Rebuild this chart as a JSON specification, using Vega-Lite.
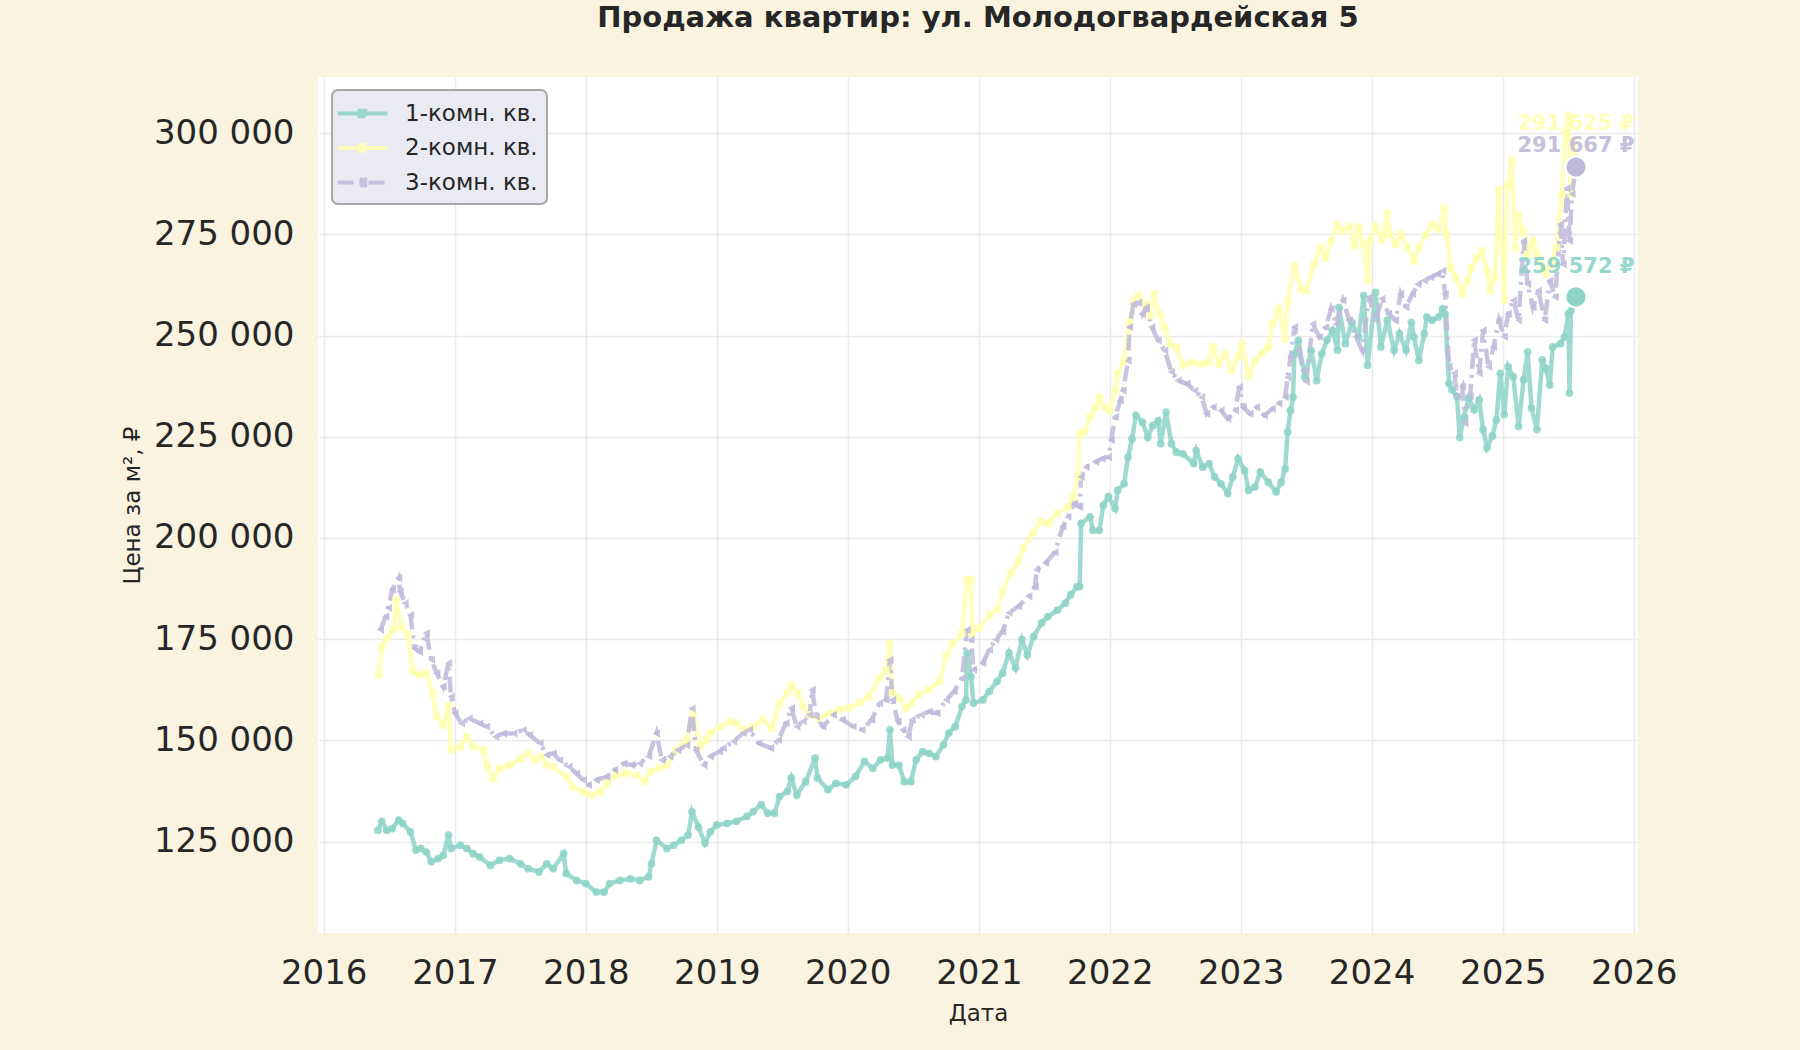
{
  "$schema": "https://vega.github.io/schema/vega-lite/v6.json",
  "width": 1320,
  "height": 856,
  "autosize": {"type": "none"},
  "padding": {"left": 318, "top": 77, "right": 162, "bottom": 117},
  "background": "#FAF3E0",
  "title": {
    "text": "Продажа квартир: ул. Молодогвардейская 5",
    "fontSize": 29,
    "fontWeight": "bold",
    "color": "#262626",
    "anchor": "middle",
    "offset": 44
  },
  "config": {
    "font": "DejaVu Sans",
    "view": {"fill": "white", "stroke": null},
    "legend": {"strokeWidth": 2},
    "locale": {"number": {"decimal": ",", "thousands": " ", "grouping": [3], "currency": ["", " ₽"]}}
  },
  "datasets": {
    "prices": [
      {"s": "1-комн. кв.", "d": "2016-05-31", "v": 127800},
      {"s": "1-комн. кв.", "d": "2016-06-11", "v": 129900},
      {"s": "1-комн. кв.", "d": "2016-06-25", "v": 127800},
      {"s": "1-комн. кв.", "d": "2016-07-10", "v": 128200},
      {"s": "1-комн. кв.", "d": "2016-07-28", "v": 130300},
      {"s": "1-комн. кв.", "d": "2016-08-08", "v": 129500},
      {"s": "1-комн. кв.", "d": "2016-08-30", "v": 127400},
      {"s": "1-комн. кв.", "d": "2016-09-14", "v": 122900},
      {"s": "1-комн. кв.", "d": "2016-09-28", "v": 123300},
      {"s": "1-комн. кв.", "d": "2016-10-13", "v": 122400},
      {"s": "1-комн. кв.", "d": "2016-10-27", "v": 120000},
      {"s": "1-комн. кв.", "d": "2016-11-15", "v": 120800},
      {"s": "1-комн. кв.", "d": "2016-11-29", "v": 121600},
      {"s": "1-комн. кв.", "d": "2016-12-14", "v": 126600},
      {"s": "1-комн. кв.", "d": "2016-12-21", "v": 123300},
      {"s": "1-комн. кв.", "d": "2017-01-16", "v": 124100},
      {"s": "1-комн. кв.", "d": "2017-02-03", "v": 123300},
      {"s": "1-комн. кв.", "d": "2017-02-21", "v": 122000},
      {"s": "1-комн. кв.", "d": "2017-03-11", "v": 121200},
      {"s": "1-комн. кв.", "d": "2017-04-10", "v": 119100},
      {"s": "1-комн. кв.", "d": "2017-05-05", "v": 120400},
      {"s": "1-комн. кв.", "d": "2017-06-03", "v": 120800},
      {"s": "1-комн. кв.", "d": "2017-07-03", "v": 119500},
      {"s": "1-комн. кв.", "d": "2017-07-24", "v": 118300},
      {"s": "1-комн. кв.", "d": "2017-08-23", "v": 117500},
      {"s": "1-комн. кв.", "d": "2017-09-14", "v": 119500},
      {"s": "1-комн. кв.", "d": "2017-10-02", "v": 118300},
      {"s": "1-комн. кв.", "d": "2017-10-31", "v": 122000},
      {"s": "1-комн. кв.", "d": "2017-11-07", "v": 117100},
      {"s": "1-комн. кв.", "d": "2017-12-06", "v": 115400},
      {"s": "1-комн. кв.", "d": "2018-01-01", "v": 114600},
      {"s": "1-комн. кв.", "d": "2018-01-30", "v": 112500},
      {"s": "1-комн. кв.", "d": "2018-02-21", "v": 112500},
      {"s": "1-комн. кв.", "d": "2018-03-08", "v": 114600},
      {"s": "1-комн. кв.", "d": "2018-04-06", "v": 115400},
      {"s": "1-комн. кв.", "d": "2018-05-05", "v": 115800},
      {"s": "1-комн. кв.", "d": "2018-05-31", "v": 115400},
      {"s": "1-комн. кв.", "d": "2018-06-25", "v": 116300},
      {"s": "1-комн. кв.", "d": "2018-07-03", "v": 119500},
      {"s": "1-комн. кв.", "d": "2018-07-17", "v": 125300},
      {"s": "1-комн. кв.", "d": "2018-08-15", "v": 123300},
      {"s": "1-комн. кв.", "d": "2018-09-03", "v": 124100},
      {"s": "1-комн. кв.", "d": "2018-09-24", "v": 125300},
      {"s": "1-комн. кв.", "d": "2018-10-13", "v": 126600},
      {"s": "1-комн. кв.", "d": "2018-10-24", "v": 132300},
      {"s": "1-комн. кв.", "d": "2018-11-11", "v": 128600},
      {"s": "1-комн. кв.", "d": "2018-11-29", "v": 124600},
      {"s": "1-комн. кв.", "d": "2018-12-14", "v": 127400},
      {"s": "1-комн. кв.", "d": "2019-01-01", "v": 129100},
      {"s": "1-комн. кв.", "d": "2019-01-30", "v": 129500},
      {"s": "1-комн. кв.", "d": "2019-02-25", "v": 130000},
      {"s": "1-комн. кв.", "d": "2019-03-26", "v": 131200},
      {"s": "1-комн. кв.", "d": "2019-04-13", "v": 132400},
      {"s": "1-комн. кв.", "d": "2019-05-05", "v": 134100},
      {"s": "1-комн. кв.", "d": "2019-05-23", "v": 132000},
      {"s": "1-комн. кв.", "d": "2019-06-11", "v": 132000},
      {"s": "1-комн. кв.", "d": "2019-06-25", "v": 136100},
      {"s": "1-комн. кв.", "d": "2019-07-17", "v": 137400},
      {"s": "1-комн. кв.", "d": "2019-07-28", "v": 140700},
      {"s": "1-комн. кв.", "d": "2019-08-12", "v": 136500},
      {"s": "1-комн. кв.", "d": "2019-09-06", "v": 139800},
      {"s": "1-комн. кв.", "d": "2019-10-02", "v": 145600},
      {"s": "1-комн. кв.", "d": "2019-10-09", "v": 140700},
      {"s": "1-комн. кв.", "d": "2019-11-07", "v": 137800},
      {"s": "1-комн. кв.", "d": "2019-11-29", "v": 139400},
      {"s": "1-комн. кв.", "d": "2019-12-28", "v": 139000},
      {"s": "1-комн. кв.", "d": "2020-01-23", "v": 141100},
      {"s": "1-комн. кв.", "d": "2020-02-17", "v": 144800},
      {"s": "1-комн. кв.", "d": "2020-03-11", "v": 143100},
      {"s": "1-комн. кв.", "d": "2020-04-02", "v": 145200},
      {"s": "1-комн. кв.", "d": "2020-04-21", "v": 145600},
      {"s": "1-комн. кв.", "d": "2020-04-28", "v": 152600},
      {"s": "1-комн. кв.", "d": "2020-05-05", "v": 143900},
      {"s": "1-комн. кв.", "d": "2020-05-23", "v": 143900},
      {"s": "1-комн. кв.", "d": "2020-06-07", "v": 139800},
      {"s": "1-комн. кв.", "d": "2020-06-25", "v": 139800},
      {"s": "1-комн. кв.", "d": "2020-07-10", "v": 145200},
      {"s": "1-комн. кв.", "d": "2020-07-28", "v": 147200},
      {"s": "1-комн. кв.", "d": "2020-08-15", "v": 146800},
      {"s": "1-комн. кв.", "d": "2020-09-03", "v": 146000},
      {"s": "1-комн. кв.", "d": "2020-09-24", "v": 148900},
      {"s": "1-комн. кв.", "d": "2020-10-09", "v": 151800},
      {"s": "1-комн. кв.", "d": "2020-10-27", "v": 153400},
      {"s": "1-комн. кв.", "d": "2020-11-15", "v": 158400},
      {"s": "1-комн. кв.", "d": "2020-11-26", "v": 160000},
      {"s": "1-комн. кв.", "d": "2020-11-29", "v": 171500},
      {"s": "1-комн. кв.", "d": "2020-12-10", "v": 165800},
      {"s": "1-комн. кв.", "d": "2020-12-17", "v": 159200},
      {"s": "1-комн. кв.", "d": "2021-01-12", "v": 160000},
      {"s": "1-комн. кв.", "d": "2021-01-30", "v": 162100},
      {"s": "1-комн. кв.", "d": "2021-02-21", "v": 164600},
      {"s": "1-комн. кв.", "d": "2021-03-08", "v": 166600},
      {"s": "1-комн. кв.", "d": "2021-03-26", "v": 171600},
      {"s": "1-комн. кв.", "d": "2021-04-13", "v": 167900},
      {"s": "1-комн. кв.", "d": "2021-05-01", "v": 174900},
      {"s": "1-комн. кв.", "d": "2021-05-16", "v": 171100},
      {"s": "1-комн. кв.", "d": "2021-06-03", "v": 175700},
      {"s": "1-комн. кв.", "d": "2021-06-25", "v": 179000},
      {"s": "1-комн. кв.", "d": "2021-07-13", "v": 180600},
      {"s": "1-комн. кв.", "d": "2021-08-08", "v": 182200},
      {"s": "1-комн. кв.", "d": "2021-08-30", "v": 183900},
      {"s": "1-комн. кв.", "d": "2021-09-14", "v": 186000},
      {"s": "1-комн. кв.", "d": "2021-10-02", "v": 188000},
      {"s": "1-комн. кв.", "d": "2021-10-09", "v": 188000},
      {"s": "1-комн. кв.", "d": "2021-10-13", "v": 203600},
      {"s": "1-комн. кв.", "d": "2021-11-07", "v": 205200},
      {"s": "1-комн. кв.", "d": "2021-11-15", "v": 201900},
      {"s": "1-комн. кв.", "d": "2021-12-03", "v": 201900},
      {"s": "1-комн. кв.", "d": "2021-12-14", "v": 208100},
      {"s": "1-комн. кв.", "d": "2021-12-28", "v": 210200},
      {"s": "1-комн. кв.", "d": "2022-01-16", "v": 207300},
      {"s": "1-комн. кв.", "d": "2022-01-23", "v": 211800},
      {"s": "1-комн. кв.", "d": "2022-02-10", "v": 213400},
      {"s": "1-комн. кв.", "d": "2022-02-21", "v": 220000},
      {"s": "1-комн. кв.", "d": "2022-03-04", "v": 224500},
      {"s": "1-комн. кв.", "d": "2022-03-15", "v": 230300},
      {"s": "1-комн. кв.", "d": "2022-04-02", "v": 228600},
      {"s": "1-комн. кв.", "d": "2022-04-17", "v": 224900},
      {"s": "1-комн. кв.", "d": "2022-05-01", "v": 227800},
      {"s": "1-комн. кв.", "d": "2022-05-16", "v": 229000},
      {"s": "1-комн. кв.", "d": "2022-05-23", "v": 223300},
      {"s": "1-комн. кв.", "d": "2022-06-07", "v": 231100},
      {"s": "1-комн. кв.", "d": "2022-06-22", "v": 223300},
      {"s": "1-комн. кв.", "d": "2022-07-06", "v": 221200},
      {"s": "1-комн. кв.", "d": "2022-07-24", "v": 220800},
      {"s": "1-комн. кв.", "d": "2022-08-23", "v": 218400},
      {"s": "1-комн. кв.", "d": "2022-08-30", "v": 221600},
      {"s": "1-комн. кв.", "d": "2022-09-17", "v": 217500},
      {"s": "1-комн. кв.", "d": "2022-10-05", "v": 218400},
      {"s": "1-комн. кв.", "d": "2022-10-20", "v": 215100},
      {"s": "1-комн. кв.", "d": "2022-11-07", "v": 213400},
      {"s": "1-комн. кв.", "d": "2022-11-26", "v": 211000},
      {"s": "1-комн. кв.", "d": "2022-12-10", "v": 215100},
      {"s": "1-комн. кв.", "d": "2022-12-25", "v": 219600},
      {"s": "1-комн. кв.", "d": "2023-01-12", "v": 216700},
      {"s": "1-комн. кв.", "d": "2023-01-23", "v": 211800},
      {"s": "1-комн. кв.", "d": "2023-02-10", "v": 212600},
      {"s": "1-комн. кв.", "d": "2023-02-25", "v": 216300},
      {"s": "1-комн. кв.", "d": "2023-03-19", "v": 213800},
      {"s": "1-комн. кв.", "d": "2023-04-10", "v": 211400},
      {"s": "1-комн. кв.", "d": "2023-04-24", "v": 213800},
      {"s": "1-комн. кв.", "d": "2023-05-05", "v": 217100},
      {"s": "1-комн. кв.", "d": "2023-05-12", "v": 226200},
      {"s": "1-комн. кв.", "d": "2023-05-20", "v": 231500},
      {"s": "1-комн. кв.", "d": "2023-05-27", "v": 234800},
      {"s": "1-комн. кв.", "d": "2023-05-31", "v": 245500},
      {"s": "1-комн. кв.", "d": "2023-06-11", "v": 248800},
      {"s": "1-комн. кв.", "d": "2023-06-29", "v": 239700},
      {"s": "1-комн. кв.", "d": "2023-07-17", "v": 246300},
      {"s": "1-комн. кв.", "d": "2023-08-01", "v": 238900},
      {"s": "1-комн. кв.", "d": "2023-08-15", "v": 245500},
      {"s": "1-комн. кв.", "d": "2023-08-30", "v": 248900},
      {"s": "1-комн. кв.", "d": "2023-09-14", "v": 251300},
      {"s": "1-комн. кв.", "d": "2023-09-28", "v": 246400},
      {"s": "1-комн. кв.", "d": "2023-10-02", "v": 257000},
      {"s": "1-комн. кв.", "d": "2023-10-20", "v": 248000},
      {"s": "1-комн. кв.", "d": "2023-11-07", "v": 253300},
      {"s": "1-комн. кв.", "d": "2023-11-26", "v": 249700},
      {"s": "1-комн. кв.", "d": "2023-12-10", "v": 259900},
      {"s": "1-комн. кв.", "d": "2023-12-21", "v": 242700},
      {"s": "1-комн. кв.", "d": "2024-01-12", "v": 260700},
      {"s": "1-комн. кв.", "d": "2024-01-27", "v": 247200},
      {"s": "1-комн. кв.", "d": "2024-02-14", "v": 253800},
      {"s": "1-комн. кв.", "d": "2024-03-04", "v": 246400},
      {"s": "1-комн. кв.", "d": "2024-03-19", "v": 250500},
      {"s": "1-комн. кв.", "d": "2024-04-06", "v": 246400},
      {"s": "1-комн. кв.", "d": "2024-04-21", "v": 253300},
      {"s": "1-комн. кв.", "d": "2024-04-28", "v": 249700},
      {"s": "1-комн. кв.", "d": "2024-05-12", "v": 243900},
      {"s": "1-комн. кв.", "d": "2024-05-27", "v": 250500},
      {"s": "1-комн. кв.", "d": "2024-06-03", "v": 254600},
      {"s": "1-комн. кв.", "d": "2024-06-18", "v": 253800},
      {"s": "1-комн. кв.", "d": "2024-07-06", "v": 254600},
      {"s": "1-комн. кв.", "d": "2024-07-17", "v": 256600},
      {"s": "1-комн. кв.", "d": "2024-07-24", "v": 255400},
      {"s": "1-комн. кв.", "d": "2024-08-04", "v": 238200},
      {"s": "1-комн. кв.", "d": "2024-08-12", "v": 236600},
      {"s": "1-комн. кв.", "d": "2024-08-26", "v": 235000},
      {"s": "1-комн. кв.", "d": "2024-09-03", "v": 224800},
      {"s": "1-комн. кв.", "d": "2024-09-14", "v": 229700},
      {"s": "1-комн. кв.", "d": "2024-09-28", "v": 234600},
      {"s": "1-комн. кв.", "d": "2024-10-13", "v": 231700},
      {"s": "1-комн. кв.", "d": "2024-10-27", "v": 234100},
      {"s": "1-комн. кв.", "d": "2024-11-07", "v": 226800},
      {"s": "1-комн. кв.", "d": "2024-11-18", "v": 222300},
      {"s": "1-комн. кв.", "d": "2024-12-03", "v": 225200},
      {"s": "1-комн. кв.", "d": "2024-12-14", "v": 229200},
      {"s": "1-комн. кв.", "d": "2024-12-25", "v": 240700},
      {"s": "1-комн. кв.", "d": "2025-01-05", "v": 230500},
      {"s": "1-комн. кв.", "d": "2025-01-16", "v": 242300},
      {"s": "1-комн. кв.", "d": "2025-01-30", "v": 239900},
      {"s": "1-комн. кв.", "d": "2025-02-14", "v": 227600},
      {"s": "1-комн. кв.", "d": "2025-02-28", "v": 239100},
      {"s": "1-комн. кв.", "d": "2025-03-11", "v": 246000},
      {"s": "1-комн. кв.", "d": "2025-03-22", "v": 232100},
      {"s": "1-комн. кв.", "d": "2025-04-06", "v": 226800},
      {"s": "1-комн. кв.", "d": "2025-04-21", "v": 244000},
      {"s": "1-комн. кв.", "d": "2025-05-01", "v": 241900},
      {"s": "1-комн. кв.", "d": "2025-05-12", "v": 237800},
      {"s": "1-комн. кв.", "d": "2025-05-20", "v": 247200},
      {"s": "1-комн. кв.", "d": "2025-06-11", "v": 248000},
      {"s": "1-комн. кв.", "d": "2025-06-22", "v": 249700},
      {"s": "1-комн. кв.", "d": "2025-07-03", "v": 255400},
      {"s": "1-комн. кв.", "d": "2025-07-06", "v": 235800},
      {"s": "1-комн. кв.", "d": "2025-07-10", "v": 256200},
      {"s": "1-комн. кв.", "d": "2025-07-24", "v": 259572},

      {"s": "2-комн. кв.", "d": "2016-06-03", "v": 166200},
      {"s": "2-комн. кв.", "d": "2016-06-11", "v": 173200},
      {"s": "2-комн. кв.", "d": "2016-06-25", "v": 175200},
      {"s": "2-комн. кв.", "d": "2016-07-13", "v": 177300},
      {"s": "2-комн. кв.", "d": "2016-07-21", "v": 184700},
      {"s": "2-комн. кв.", "d": "2016-08-04", "v": 178100},
      {"s": "2-комн. кв.", "d": "2016-08-23", "v": 176100},
      {"s": "2-комн. кв.", "d": "2016-09-06", "v": 167000},
      {"s": "2-комн. кв.", "d": "2016-09-24", "v": 166200},
      {"s": "2-комн. кв.", "d": "2016-10-13", "v": 166600},
      {"s": "2-комн. кв.", "d": "2016-10-31", "v": 161600},
      {"s": "2-комн. кв.", "d": "2016-11-11", "v": 155900},
      {"s": "2-комн. кв.", "d": "2016-11-29", "v": 153800},
      {"s": "2-комн. кв.", "d": "2016-12-14", "v": 158700},
      {"s": "2-комн. кв.", "d": "2016-12-21", "v": 147600},
      {"s": "2-комн. кв.", "d": "2017-01-16", "v": 148400},
      {"s": "2-комн. кв.", "d": "2017-02-03", "v": 150900},
      {"s": "2-комн. кв.", "d": "2017-02-21", "v": 148400},
      {"s": "2-комн. кв.", "d": "2017-03-22", "v": 147600},
      {"s": "2-комн. кв.", "d": "2017-04-02", "v": 143500},
      {"s": "2-комн. кв.", "d": "2017-04-17", "v": 140600},
      {"s": "2-комн. кв.", "d": "2017-05-05", "v": 143100},
      {"s": "2-комн. кв.", "d": "2017-06-03", "v": 143900},
      {"s": "2-комн. кв.", "d": "2017-07-03", "v": 145500},
      {"s": "2-комн. кв.", "d": "2017-07-24", "v": 146800},
      {"s": "2-комн. кв.", "d": "2017-08-12", "v": 145100},
      {"s": "2-комн. кв.", "d": "2017-08-30", "v": 146000},
      {"s": "2-комн. кв.", "d": "2017-09-14", "v": 143900},
      {"s": "2-комн. кв.", "d": "2017-10-02", "v": 143500},
      {"s": "2-комн. кв.", "d": "2017-11-07", "v": 141000},
      {"s": "2-комн. кв.", "d": "2017-11-26", "v": 138500},
      {"s": "2-комн. кв.", "d": "2017-12-25", "v": 137300},
      {"s": "2-комн. кв.", "d": "2018-01-16", "v": 136500},
      {"s": "2-комн. кв.", "d": "2018-02-10", "v": 137300},
      {"s": "2-комн. кв.", "d": "2018-02-28", "v": 139400},
      {"s": "2-комн. кв.", "d": "2018-03-26", "v": 141400},
      {"s": "2-комн. кв.", "d": "2018-04-24", "v": 141800},
      {"s": "2-комн. кв.", "d": "2018-05-23", "v": 141400},
      {"s": "2-комн. кв.", "d": "2018-06-14", "v": 139800},
      {"s": "2-комн. кв.", "d": "2018-06-29", "v": 142200},
      {"s": "2-комн. кв.", "d": "2018-07-24", "v": 143100},
      {"s": "2-комн. кв.", "d": "2018-08-15", "v": 143900},
      {"s": "2-комн. кв.", "d": "2018-09-10", "v": 147600},
      {"s": "2-комн. кв.", "d": "2018-10-09", "v": 150100},
      {"s": "2-комн. кв.", "d": "2018-10-27", "v": 156700},
      {"s": "2-комн. кв.", "d": "2018-11-15", "v": 148400},
      {"s": "2-комн. кв.", "d": "2018-12-03", "v": 150100},
      {"s": "2-комн. кв.", "d": "2018-12-14", "v": 151800},
      {"s": "2-комн. кв.", "d": "2019-01-12", "v": 153400},
      {"s": "2-комн. кв.", "d": "2019-02-07", "v": 154700},
      {"s": "2-комн. кв.", "d": "2019-02-25", "v": 154300},
      {"s": "2-комн. кв.", "d": "2019-03-15", "v": 152600},
      {"s": "2-комн. кв.", "d": "2019-04-13", "v": 153400},
      {"s": "2-комн. кв.", "d": "2019-05-09", "v": 155100},
      {"s": "2-комн. кв.", "d": "2019-06-03", "v": 153000},
      {"s": "2-комн. кв.", "d": "2019-06-25", "v": 159200},
      {"s": "2-комн. кв.", "d": "2019-07-17", "v": 161700},
      {"s": "2-комн. кв.", "d": "2019-07-28", "v": 163700},
      {"s": "2-комн. кв.", "d": "2019-08-15", "v": 161700},
      {"s": "2-комн. кв.", "d": "2019-08-30", "v": 158400},
      {"s": "2-комн. кв.", "d": "2019-09-17", "v": 156300},
      {"s": "2-комн. кв.", "d": "2019-10-13", "v": 155500},
      {"s": "2-комн. кв.", "d": "2019-11-11", "v": 156700},
      {"s": "2-комн. кв.", "d": "2019-12-10", "v": 157600},
      {"s": "2-комн. кв.", "d": "2020-01-05", "v": 158000},
      {"s": "2-комн. кв.", "d": "2020-02-03", "v": 159200},
      {"s": "2-комн. кв.", "d": "2020-02-28", "v": 160800},
      {"s": "2-комн. кв.", "d": "2020-03-30", "v": 165400},
      {"s": "2-комн. кв.", "d": "2020-04-17", "v": 167400},
      {"s": "2-комн. кв.", "d": "2020-04-28", "v": 174000},
      {"s": "2-комн. кв.", "d": "2020-05-05", "v": 161700},
      {"s": "2-комн. кв.", "d": "2020-05-23", "v": 160400},
      {"s": "2-комн. кв.", "d": "2020-06-11", "v": 158000},
      {"s": "2-комн. кв.", "d": "2020-06-29", "v": 159200},
      {"s": "2-комн. кв.", "d": "2020-07-17", "v": 161300},
      {"s": "2-комн. кв.", "d": "2020-08-15", "v": 162500},
      {"s": "2-комн. кв.", "d": "2020-09-14", "v": 164600},
      {"s": "2-комн. кв.", "d": "2020-10-02", "v": 171100},
      {"s": "2-комн. кв.", "d": "2020-10-20", "v": 174000},
      {"s": "2-комн. кв.", "d": "2020-11-15", "v": 176500},
      {"s": "2-комн. кв.", "d": "2020-11-29", "v": 189700},
      {"s": "2-комн. кв.", "d": "2020-12-10", "v": 189700},
      {"s": "2-комн. кв.", "d": "2020-12-14", "v": 176500},
      {"s": "2-комн. кв.", "d": "2021-01-01", "v": 177700},
      {"s": "2-комн. кв.", "d": "2021-01-30", "v": 181000},
      {"s": "2-комн. кв.", "d": "2021-02-21", "v": 182300},
      {"s": "2-комн. кв.", "d": "2021-03-08", "v": 186800},
      {"s": "2-комн. кв.", "d": "2021-03-30", "v": 191300},
      {"s": "2-комн. кв.", "d": "2021-04-21", "v": 194200},
      {"s": "2-комн. кв.", "d": "2021-05-05", "v": 197500},
      {"s": "2-комн. кв.", "d": "2021-05-31", "v": 201200},
      {"s": "2-комн. кв.", "d": "2021-06-22", "v": 204100},
      {"s": "2-комн. кв.", "d": "2021-07-13", "v": 203600},
      {"s": "2-комн. кв.", "d": "2021-08-08", "v": 206000},
      {"s": "2-комн. кв.", "d": "2021-09-06", "v": 207700},
      {"s": "2-комн. кв.", "d": "2021-09-21", "v": 210200},
      {"s": "2-комн. кв.", "d": "2021-10-05", "v": 215100},
      {"s": "2-комн. кв.", "d": "2021-10-09", "v": 225800},
      {"s": "2-комн. кв.", "d": "2021-10-24", "v": 226200},
      {"s": "2-комн. кв.", "d": "2021-11-07", "v": 229900},
      {"s": "2-комн. кв.", "d": "2021-11-22", "v": 232300},
      {"s": "2-комн. кв.", "d": "2021-12-03", "v": 234800},
      {"s": "2-комн. кв.", "d": "2021-12-17", "v": 232300},
      {"s": "2-комн. кв.", "d": "2022-01-01", "v": 231500},
      {"s": "2-комн. кв.", "d": "2022-01-16", "v": 236400},
      {"s": "2-комн. кв.", "d": "2022-01-23", "v": 240600},
      {"s": "2-комн. кв.", "d": "2022-02-10", "v": 243800},
      {"s": "2-комн. кв.", "d": "2022-02-25", "v": 253300},
      {"s": "2-комн. кв.", "d": "2022-03-08", "v": 258600},
      {"s": "2-комн. кв.", "d": "2022-03-22", "v": 259900},
      {"s": "2-комн. кв.", "d": "2022-04-10", "v": 257800},
      {"s": "2-комн. кв.", "d": "2022-04-24", "v": 254900},
      {"s": "2-комн. кв.", "d": "2022-05-05", "v": 260300},
      {"s": "2-комн. кв.", "d": "2022-05-20", "v": 255300},
      {"s": "2-комн. кв.", "d": "2022-06-03", "v": 252100},
      {"s": "2-комн. кв.", "d": "2022-06-18", "v": 247900},
      {"s": "2-комн. кв.", "d": "2022-07-06", "v": 247100},
      {"s": "2-комн. кв.", "d": "2022-07-24", "v": 242600},
      {"s": "2-комн. кв.", "d": "2022-08-15", "v": 243400},
      {"s": "2-комн. кв.", "d": "2022-09-14", "v": 243000},
      {"s": "2-комн. кв.", "d": "2022-10-02", "v": 243400},
      {"s": "2-комн. кв.", "d": "2022-10-16", "v": 247100},
      {"s": "2-комн. кв.", "d": "2022-10-31", "v": 243000},
      {"s": "2-комн. кв.", "d": "2022-11-18", "v": 245500},
      {"s": "2-комн. кв.", "d": "2022-12-06", "v": 241400},
      {"s": "2-комн. кв.", "d": "2022-12-25", "v": 244700},
      {"s": "2-комн. кв.", "d": "2023-01-05", "v": 247900},
      {"s": "2-комн. кв.", "d": "2023-01-23", "v": 240100},
      {"s": "2-комн. кв.", "d": "2023-02-10", "v": 243800},
      {"s": "2-комн. кв.", "d": "2023-02-28", "v": 245500},
      {"s": "2-комн. кв.", "d": "2023-03-19", "v": 247100},
      {"s": "2-комн. кв.", "d": "2023-03-30", "v": 252900},
      {"s": "2-комн. кв.", "d": "2023-04-17", "v": 256600},
      {"s": "2-комн. кв.", "d": "2023-05-05", "v": 249200},
      {"s": "2-комн. кв.", "d": "2023-05-12", "v": 258600},
      {"s": "2-комн. кв.", "d": "2023-05-31", "v": 267300},
      {"s": "2-комн. кв.", "d": "2023-06-18", "v": 261500},
      {"s": "2-комн. кв.", "d": "2023-07-03", "v": 261100},
      {"s": "2-комн. кв.", "d": "2023-07-24", "v": 267600},
      {"s": "2-комн. кв.", "d": "2023-08-12", "v": 271700},
      {"s": "2-комн. кв.", "d": "2023-08-26", "v": 269300},
      {"s": "2-комн. кв.", "d": "2023-09-10", "v": 273400},
      {"s": "2-комн. кв.", "d": "2023-09-28", "v": 277500},
      {"s": "2-комн. кв.", "d": "2023-10-13", "v": 275800},
      {"s": "2-комн. кв.", "d": "2023-10-31", "v": 277000},
      {"s": "2-комн. кв.", "d": "2023-11-15", "v": 272100},
      {"s": "2-комн. кв.", "d": "2023-11-26", "v": 276600},
      {"s": "2-комн. кв.", "d": "2023-12-10", "v": 272500},
      {"s": "2-комн. кв.", "d": "2023-12-21", "v": 263600},
      {"s": "2-комн. кв.", "d": "2023-12-28", "v": 273400},
      {"s": "2-комн. кв.", "d": "2024-01-12", "v": 277000},
      {"s": "2-комн. кв.", "d": "2024-01-30", "v": 273800},
      {"s": "2-комн. кв.", "d": "2024-02-14", "v": 280300},
      {"s": "2-комн. кв.", "d": "2024-02-21", "v": 275000},
      {"s": "2-комн. кв.", "d": "2024-03-08", "v": 272500},
      {"s": "2-комн. кв.", "d": "2024-03-22", "v": 275000},
      {"s": "2-комн. кв.", "d": "2024-04-10", "v": 271700},
      {"s": "2-комн. кв.", "d": "2024-04-28", "v": 268500},
      {"s": "2-комн. кв.", "d": "2024-05-12", "v": 271700},
      {"s": "2-комн. кв.", "d": "2024-05-31", "v": 275000},
      {"s": "2-комн. кв.", "d": "2024-06-18", "v": 277500},
      {"s": "2-комн. кв.", "d": "2024-07-06", "v": 276200},
      {"s": "2-комн. кв.", "d": "2024-07-21", "v": 281500},
      {"s": "2-комн. кв.", "d": "2024-07-28", "v": 275000},
      {"s": "2-комн. кв.", "d": "2024-08-08", "v": 266800},
      {"s": "2-комн. кв.", "d": "2024-08-23", "v": 264400},
      {"s": "2-комн. кв.", "d": "2024-09-10", "v": 260300},
      {"s": "2-комн. кв.", "d": "2024-09-24", "v": 263600},
      {"s": "2-комн. кв.", "d": "2024-10-05", "v": 266800},
      {"s": "2-комн. кв.", "d": "2024-10-20", "v": 269300},
      {"s": "2-комн. кв.", "d": "2024-11-04", "v": 270900},
      {"s": "2-комн. кв.", "d": "2024-11-18", "v": 266000},
      {"s": "2-комн. кв.", "d": "2024-11-26", "v": 261100},
      {"s": "2-комн. кв.", "d": "2024-12-10", "v": 264400},
      {"s": "2-комн. кв.", "d": "2024-12-21", "v": 286000},
      {"s": "2-комн. кв.", "d": "2025-01-05", "v": 258700},
      {"s": "2-комн. кв.", "d": "2025-01-14", "v": 287000},
      {"s": "2-комн. кв.", "d": "2025-01-27", "v": 293400},
      {"s": "2-комн. кв.", "d": "2025-02-05", "v": 271700},
      {"s": "2-комн. кв.", "d": "2025-02-14", "v": 279900},
      {"s": "2-комн. кв.", "d": "2025-02-28", "v": 275800},
      {"s": "2-комн. кв.", "d": "2025-03-11", "v": 270100},
      {"s": "2-комн. кв.", "d": "2025-03-26", "v": 273400},
      {"s": "2-комн. кв.", "d": "2025-04-06", "v": 270100},
      {"s": "2-комн. кв.", "d": "2025-04-21", "v": 266800},
      {"s": "2-комн. кв.", "d": "2025-05-01", "v": 265200},
      {"s": "2-комн. кв.", "d": "2025-05-16", "v": 267600},
      {"s": "2-комн. кв.", "d": "2025-05-31", "v": 271700},
      {"s": "2-комн. кв.", "d": "2025-06-14", "v": 284800},
      {"s": "2-комн. кв.", "d": "2025-06-25", "v": 300000},
      {"s": "2-комн. кв.", "d": "2025-07-03", "v": 304400},
      {"s": "2-комн. кв.", "d": "2025-07-10", "v": 285000},
      {"s": "2-комн. кв.", "d": "2025-07-17", "v": 298000},
      {"s": "2-комн. кв.", "d": "2025-07-24", "v": 291625},

      {"s": "3-комн. кв.", "d": "2016-06-07", "v": 177300},
      {"s": "3-комн. кв.", "d": "2016-06-22", "v": 180600},
      {"s": "3-комн. кв.", "d": "2016-06-29", "v": 182700},
      {"s": "3-комн. кв.", "d": "2016-07-10", "v": 187200},
      {"s": "3-комн. кв.", "d": "2016-07-28", "v": 190100},
      {"s": "3-комн. кв.", "d": "2016-08-01", "v": 186800},
      {"s": "3-комн. кв.", "d": "2016-08-15", "v": 183900},
      {"s": "3-комн. кв.", "d": "2016-08-30", "v": 181000},
      {"s": "3-комн. кв.", "d": "2016-09-10", "v": 172800},
      {"s": "3-комн. кв.", "d": "2016-09-24", "v": 171900},
      {"s": "3-комн. кв.", "d": "2016-10-13", "v": 176500},
      {"s": "3-комн. кв.", "d": "2016-10-27", "v": 169900},
      {"s": "3-комн. кв.", "d": "2016-11-11", "v": 166600},
      {"s": "3-комн. кв.", "d": "2016-11-29", "v": 163300},
      {"s": "3-комн. кв.", "d": "2016-12-14", "v": 169100},
      {"s": "3-комн. кв.", "d": "2016-12-21", "v": 160800},
      {"s": "3-комн. кв.", "d": "2017-01-01", "v": 156700},
      {"s": "3-комн. кв.", "d": "2017-01-19", "v": 154200},
      {"s": "3-комн. кв.", "d": "2017-02-10", "v": 155400},
      {"s": "3-комн. кв.", "d": "2017-03-11", "v": 154200},
      {"s": "3-комн. кв.", "d": "2017-03-30", "v": 153400},
      {"s": "3-комн. кв.", "d": "2017-04-24", "v": 150900},
      {"s": "3-комн. кв.", "d": "2017-05-16", "v": 151700},
      {"s": "3-комн. кв.", "d": "2017-06-14", "v": 151700},
      {"s": "3-комн. кв.", "d": "2017-07-10", "v": 152600},
      {"s": "3-комн. кв.", "d": "2017-07-28", "v": 151300},
      {"s": "3-комн. кв.", "d": "2017-08-26", "v": 149300},
      {"s": "3-комн. кв.", "d": "2017-09-14", "v": 146400},
      {"s": "3-комн. кв.", "d": "2017-10-02", "v": 146800},
      {"s": "3-комн. кв.", "d": "2017-10-20", "v": 145100},
      {"s": "3-комн. кв.", "d": "2017-11-15", "v": 143500},
      {"s": "3-комн. кв.", "d": "2017-12-06", "v": 141800},
      {"s": "3-комн. кв.", "d": "2017-12-25", "v": 140200},
      {"s": "3-комн. кв.", "d": "2018-01-08", "v": 139000},
      {"s": "3-комн. кв.", "d": "2018-01-30", "v": 140200},
      {"s": "3-комн. кв.", "d": "2018-02-28", "v": 141000},
      {"s": "3-комн. кв.", "d": "2018-03-22", "v": 142700},
      {"s": "3-комн. кв.", "d": "2018-04-17", "v": 144300},
      {"s": "3-комн. кв.", "d": "2018-05-09", "v": 143900},
      {"s": "3-комн. кв.", "d": "2018-05-31", "v": 144300},
      {"s": "3-комн. кв.", "d": "2018-06-25", "v": 146000},
      {"s": "3-комн. кв.", "d": "2018-07-17", "v": 151700},
      {"s": "3-комн. кв.", "d": "2018-08-01", "v": 145100},
      {"s": "3-комн. кв.", "d": "2018-08-23", "v": 146000},
      {"s": "3-комн. кв.", "d": "2018-09-14", "v": 147600},
      {"s": "3-комн. кв.", "d": "2018-10-09", "v": 148800},
      {"s": "3-комн. кв.", "d": "2018-10-24", "v": 157900},
      {"s": "3-комн. кв.", "d": "2018-11-04", "v": 147600},
      {"s": "3-комн. кв.", "d": "2018-11-26", "v": 143900},
      {"s": "3-комн. кв.", "d": "2018-12-14", "v": 146000},
      {"s": "3-комн. кв.", "d": "2019-01-08", "v": 147200},
      {"s": "3-комн. кв.", "d": "2019-01-19", "v": 148100},
      {"s": "3-комн. кв.", "d": "2019-02-17", "v": 149700},
      {"s": "3-комн. кв.", "d": "2019-03-15", "v": 151800},
      {"s": "3-комн. кв.", "d": "2019-04-02", "v": 152600},
      {"s": "3-комн. кв.", "d": "2019-04-28", "v": 149300},
      {"s": "3-комн. кв.", "d": "2019-05-31", "v": 148100},
      {"s": "3-комн. кв.", "d": "2019-06-22", "v": 150100},
      {"s": "3-комн. кв.", "d": "2019-07-13", "v": 154300},
      {"s": "3-комн. кв.", "d": "2019-07-28", "v": 158000},
      {"s": "3-комн. кв.", "d": "2019-08-12", "v": 153400},
      {"s": "3-комн. кв.", "d": "2019-08-30", "v": 154700},
      {"s": "3-комн. кв.", "d": "2019-09-17", "v": 156300},
      {"s": "3-комн. кв.", "d": "2019-09-24", "v": 162500},
      {"s": "3-комн. кв.", "d": "2019-10-05", "v": 155900},
      {"s": "3-комн. кв.", "d": "2019-10-24", "v": 153400},
      {"s": "3-комн. кв.", "d": "2019-11-22", "v": 156300},
      {"s": "3-комн. кв.", "d": "2019-12-17", "v": 155100},
      {"s": "3-комн. кв.", "d": "2020-01-16", "v": 153400},
      {"s": "3-комн. кв.", "d": "2020-02-10", "v": 152600},
      {"s": "3-комн. кв.", "d": "2020-03-08", "v": 155100},
      {"s": "3-комн. кв.", "d": "2020-03-30", "v": 159200},
      {"s": "3-комн. кв.", "d": "2020-04-17", "v": 160000},
      {"s": "3-комн. кв.", "d": "2020-04-28", "v": 169900},
      {"s": "3-комн. кв.", "d": "2020-05-05", "v": 160000},
      {"s": "3-комн. кв.", "d": "2020-05-20", "v": 154700},
      {"s": "3-комн. кв.", "d": "2020-06-03", "v": 152600},
      {"s": "3-комн. кв.", "d": "2020-06-18", "v": 150900},
      {"s": "3-комн. кв.", "d": "2020-06-29", "v": 155100},
      {"s": "3-комн. кв.", "d": "2020-07-24", "v": 156300},
      {"s": "3-комн. кв.", "d": "2020-08-15", "v": 157100},
      {"s": "3-комн. кв.", "d": "2020-09-06", "v": 156700},
      {"s": "3-комн. кв.", "d": "2020-10-02", "v": 160000},
      {"s": "3-комн. кв.", "d": "2020-10-24", "v": 162100},
      {"s": "3-комн. кв.", "d": "2020-11-15", "v": 165400},
      {"s": "3-комн. кв.", "d": "2020-11-29", "v": 177300},
      {"s": "3-комн. кв.", "d": "2020-12-10", "v": 174900},
      {"s": "3-комн. кв.", "d": "2020-12-17", "v": 167400},
      {"s": "3-комн. кв.", "d": "2021-01-12", "v": 169100},
      {"s": "3-комн. кв.", "d": "2021-01-30", "v": 172400},
      {"s": "3-комн. кв.", "d": "2021-02-17", "v": 174900},
      {"s": "3-комн. кв.", "d": "2021-03-08", "v": 176900},
      {"s": "3-комн. кв.", "d": "2021-03-26", "v": 181500},
      {"s": "3-комн. кв.", "d": "2021-04-21", "v": 183100},
      {"s": "3-комн. кв.", "d": "2021-05-20", "v": 185600},
      {"s": "3-комн. кв.", "d": "2021-06-07", "v": 188000},
      {"s": "3-комн. кв.", "d": "2021-06-11", "v": 192200},
      {"s": "3-комн. кв.", "d": "2021-07-06", "v": 193800},
      {"s": "3-комн. кв.", "d": "2021-08-01", "v": 196500},
      {"s": "3-комн. кв.", "d": "2021-08-23", "v": 202800},
      {"s": "3-комн. кв.", "d": "2021-09-06", "v": 205200},
      {"s": "3-комн. кв.", "d": "2021-09-24", "v": 208500},
      {"s": "3-комн. кв.", "d": "2021-10-09", "v": 207700},
      {"s": "3-комн. кв.", "d": "2021-10-13", "v": 215100},
      {"s": "3-комн. кв.", "d": "2021-10-27", "v": 217500},
      {"s": "3-комн. кв.", "d": "2021-11-22", "v": 218800},
      {"s": "3-комн. кв.", "d": "2021-12-10", "v": 219600},
      {"s": "3-комн. кв.", "d": "2021-12-28", "v": 220000},
      {"s": "3-комн. кв.", "d": "2022-01-05", "v": 224200},
      {"s": "3-комн. кв.", "d": "2022-01-16", "v": 229900},
      {"s": "3-комн. кв.", "d": "2022-01-30", "v": 234000},
      {"s": "3-комн. кв.", "d": "2022-02-07", "v": 236400},
      {"s": "3-комн. кв.", "d": "2022-02-21", "v": 243800},
      {"s": "3-комн. кв.", "d": "2022-02-25", "v": 252100},
      {"s": "3-комн. кв.", "d": "2022-03-08", "v": 257800},
      {"s": "3-комн. кв.", "d": "2022-03-22", "v": 258200},
      {"s": "3-комн. кв.", "d": "2022-04-02", "v": 255300},
      {"s": "3-комн. кв.", "d": "2022-04-13", "v": 257000},
      {"s": "3-комн. кв.", "d": "2022-04-28", "v": 252100},
      {"s": "3-комн. кв.", "d": "2022-05-16", "v": 248800},
      {"s": "3-комн. кв.", "d": "2022-06-03", "v": 246300},
      {"s": "3-комн. кв.", "d": "2022-06-22", "v": 241000},
      {"s": "3-комн. кв.", "d": "2022-07-10", "v": 238900},
      {"s": "3-комн. кв.", "d": "2022-08-04", "v": 238100},
      {"s": "3-комн. кв.", "d": "2022-08-26", "v": 236400},
      {"s": "3-комн. кв.", "d": "2022-09-14", "v": 234800},
      {"s": "3-комн. кв.", "d": "2022-09-28", "v": 230700},
      {"s": "3-комн. кв.", "d": "2022-10-16", "v": 232300},
      {"s": "3-комн. кв.", "d": "2022-11-07", "v": 231500},
      {"s": "3-комн. кв.", "d": "2022-11-26", "v": 229500},
      {"s": "3-комн. кв.", "d": "2022-12-17", "v": 231500},
      {"s": "3-комн. кв.", "d": "2022-12-28", "v": 237300},
      {"s": "3-комн. кв.", "d": "2023-01-08", "v": 232300},
      {"s": "3-комн. кв.", "d": "2023-01-27", "v": 230700},
      {"s": "3-комн. кв.", "d": "2023-02-14", "v": 232300},
      {"s": "3-комн. кв.", "d": "2023-03-08", "v": 230300},
      {"s": "3-комн. кв.", "d": "2023-03-30", "v": 231900},
      {"s": "3-комн. кв.", "d": "2023-04-17", "v": 233200},
      {"s": "3-комн. кв.", "d": "2023-05-05", "v": 234800},
      {"s": "3-комн. кв.", "d": "2023-05-12", "v": 239700},
      {"s": "3-комн. кв.", "d": "2023-05-20", "v": 244700},
      {"s": "3-комн. кв.", "d": "2023-05-31", "v": 252100},
      {"s": "3-комн. кв.", "d": "2023-06-11", "v": 246300},
      {"s": "3-комн. кв.", "d": "2023-06-25", "v": 241400},
      {"s": "3-комн. кв.", "d": "2023-07-03", "v": 238600},
      {"s": "3-комн. кв.", "d": "2023-07-21", "v": 252900},
      {"s": "3-комн. кв.", "d": "2023-08-08", "v": 249700},
      {"s": "3-комн. кв.", "d": "2023-08-26", "v": 252100},
      {"s": "3-комн. кв.", "d": "2023-09-10", "v": 256600},
      {"s": "3-комн. кв.", "d": "2023-09-24", "v": 252900},
      {"s": "3-комн. кв.", "d": "2023-10-13", "v": 258700},
      {"s": "3-комн. кв.", "d": "2023-10-31", "v": 253800},
      {"s": "3-комн. кв.", "d": "2023-11-18", "v": 249700},
      {"s": "3-комн. кв.", "d": "2023-12-06", "v": 246400},
      {"s": "3-комн. кв.", "d": "2023-12-25", "v": 259500},
      {"s": "3-комн. кв.", "d": "2024-01-12", "v": 253800},
      {"s": "3-комн. кв.", "d": "2024-01-30", "v": 259100},
      {"s": "3-комн. кв.", "d": "2024-02-17", "v": 255400},
      {"s": "3-комн. кв.", "d": "2024-03-08", "v": 253800},
      {"s": "3-комн. кв.", "d": "2024-03-22", "v": 260300},
      {"s": "3-комн. кв.", "d": "2024-04-06", "v": 257000},
      {"s": "3-комн. кв.", "d": "2024-04-24", "v": 260300},
      {"s": "3-комн. кв.", "d": "2024-05-09", "v": 262700},
      {"s": "3-комн. кв.", "d": "2024-05-27", "v": 263600},
      {"s": "3-комн. кв.", "d": "2024-06-14", "v": 264400},
      {"s": "3-комн. кв.", "d": "2024-07-03", "v": 265200},
      {"s": "3-комн. кв.", "d": "2024-07-17", "v": 266000},
      {"s": "3-комн. кв.", "d": "2024-07-24", "v": 260300},
      {"s": "3-комн. кв.", "d": "2024-08-04", "v": 242300},
      {"s": "3-комн. кв.", "d": "2024-08-19", "v": 240700},
      {"s": "3-комн. кв.", "d": "2024-08-26", "v": 235000},
      {"s": "3-комн. кв.", "d": "2024-09-10", "v": 237400},
      {"s": "3-комн. кв.", "d": "2024-09-17", "v": 228400},
      {"s": "3-комн. кв.", "d": "2024-10-02", "v": 235000},
      {"s": "3-комн. кв.", "d": "2024-10-13", "v": 248900},
      {"s": "3-комн. кв.", "d": "2024-10-27", "v": 240700},
      {"s": "3-комн. кв.", "d": "2024-11-07", "v": 251300},
      {"s": "3-комн. кв.", "d": "2024-11-22", "v": 242300},
      {"s": "3-комн. кв.", "d": "2024-12-06", "v": 247200},
      {"s": "3-комн. кв.", "d": "2024-12-21", "v": 253800},
      {"s": "3-комн. кв.", "d": "2025-01-05", "v": 249700},
      {"s": "3-комн. кв.", "d": "2025-01-16", "v": 255400},
      {"s": "3-комн. кв.", "d": "2025-01-30", "v": 258700},
      {"s": "3-комн. кв.", "d": "2025-02-14", "v": 253800},
      {"s": "3-комн. кв.", "d": "2025-02-28", "v": 273400},
      {"s": "3-комн. кв.", "d": "2025-03-11", "v": 262700},
      {"s": "3-комн. кв.", "d": "2025-03-26", "v": 257000},
      {"s": "3-комн. кв.", "d": "2025-04-10", "v": 261100},
      {"s": "3-комн. кв.", "d": "2025-04-28", "v": 253800},
      {"s": "3-комн. кв.", "d": "2025-05-12", "v": 263600},
      {"s": "3-комн. кв.", "d": "2025-05-27", "v": 259500},
      {"s": "3-комн. кв.", "d": "2025-06-11", "v": 277500},
      {"s": "3-комн. кв.", "d": "2025-06-18", "v": 267600},
      {"s": "3-комн. кв.", "d": "2025-06-29", "v": 286400},
      {"s": "3-комн. кв.", "d": "2025-07-06", "v": 273400},
      {"s": "3-комн. кв.", "d": "2025-07-13", "v": 285000},
      {"s": "3-комн. кв.", "d": "2025-07-24", "v": 291667}
    ],
    "last": [
      {"s": "1-комн. кв.", "d": "2025-07-24", "v": 259572, "label": "259 572 ₽"},
      {"s": "2-комн. кв.", "d": "2025-07-24", "v": 291625, "label": "291 625 ₽"},
      {"s": "3-комн. кв.", "d": "2025-07-24", "v": 291667, "label": "291 667 ₽"}
    ]
  },
  "data": {"name": "prices"},
  "encoding": {
    "x": {
      "field": "d",
      "type": "temporal",
      "title": "Дата",
      "scale": {"domain": [{"year": 2015, "month": 12, "date": 16}, {"year": 2026, "month": 1, "date": 13}]},
      "axis": {
        "format": "%Y",
        "tickCount": {"interval": "year", "step": 1},
        "labelFontSize": 34,
        "labelColor": "#262626",
        "labelPadding": 23,
        "labelFlush": false,
        "labelOverlap": false,
        "ticks": false,
        "domain": false,
        "grid": true,
        "gridColor": "#EBEBEB",
        "gridWidth": 1.6,
        "titleFontSize": 23,
        "titleFontWeight": "normal",
        "titleColor": "#262626",
        "titlePadding": 12
      }
    },
    "y": {
      "field": "v",
      "type": "quantitative",
      "title": "Цена за м², ₽",
      "scale": {"domain": [102400, 313900], "zero": false, "nice": false},
      "axis": {
        "values": [125000, 150000, 175000, 200000, 225000, 250000, 275000, 300000],
        "format": ",d",
        "labelFontSize": 34,
        "labelColor": "#262626",
        "labelPadding": 24,
        "ticks": false,
        "domain": false,
        "grid": true,
        "gridColor": "#EBEBEB",
        "gridWidth": 1.6,
        "titleFontSize": 23,
        "titleFontWeight": "normal",
        "titleColor": "#262626",
        "titlePadding": 9
      }
    }
  },
  "layer": [
    {
      "mark": {"type": "line", "strokeWidth": 4.5, "opacity": 0.85},
      "encoding": {
        "color": {
          "field": "s",
          "type": "nominal",
          "scale": {"domain": ["1-комн. кв.", "2-комн. кв.", "3-комн. кв."], "range": ["#8DD3C7", "#FFFFB3", "#BEBADA"]},
          "legend": {
            "title": null,
            "orient": "none",
            "legendX": 14,
            "legendY": 13,
            "fillColor": "#EAEAF2",
            "strokeColor": "#A8A8A8",
            "cornerRadius": 6,
            "padding": 9,
            "labelFontSize": 23,
            "labelColor": "#262626",
            "symbolType": "M-2,0H2M-0.22,-0.22H0.22V0.22H-0.22Z",
            "symbolSize": 625,
            "symbolStrokeWidth": 4,
            "symbolOffset": 7,
            "rowPadding": 7.5,
            "labelOffset": 28
          }
        },
        "strokeDash": {
          "field": "s",
          "type": "nominal",
          "scale": {"domain": ["1-комн. кв.", "2-комн. кв.", "3-комн. кв."], "range": [[1, 0], [1, 0], [16, 6, 3, 6]]},
          "legend": {
            "title": null,
            "orient": "none",
            "legendX": 14,
            "legendY": 13,
            "fillColor": "#EAEAF2",
            "strokeColor": "#A8A8A8",
            "cornerRadius": 6,
            "padding": 9,
            "labelFontSize": 23,
            "labelColor": "#262626",
            "symbolType": "M-2,0H2M-0.22,-0.22H0.22V0.22H-0.22Z",
            "symbolSize": 625,
            "symbolStrokeWidth": 4,
            "symbolOffset": 7,
            "rowPadding": 7.5,
            "labelOffset": 28
          }
        }
      }
    },
    {
      "transform": [{"filter": {"field": "s", "equal": "1-комн. кв."}}],
      "mark": {"type": "point", "filled": true, "size": 60, "opacity": 0.85, "shape": "circle", "color": "#8DD3C7"}
    },
    {
      "transform": [{"filter": {"field": "s", "equal": "2-комн. кв."}}],
      "mark": {"type": "point", "filled": true, "size": 55, "opacity": 0.85, "shape": "square", "color": "#FFFFB3"}
    },
    {
      "transform": [{"filter": {"field": "s", "equal": "3-комн. кв."}}],
      "mark": {"type": "point", "filled": true, "size": 70, "opacity": 0.85, "shape": "triangle-left", "color": "#BEBADA"}
    },
    {
      "data": {"name": "last"},
      "mark": {"type": "circle", "size": 450, "opacity": 1, "stroke": "white", "strokeWidth": 2},
      "encoding": {
        "color": {"field": "s", "type": "nominal", "legend": null}
      }
    },
    {
      "data": {"name": "last"},
      "transform": [{"filter": {"field": "s", "equal": "1-комн. кв."}}],
      "mark": {"type": "text", "fontSize": 21, "fontWeight": "bold", "align": "center", "baseline": "middle", "dy": -30, "opacity": 0.9, "color": "#8DD3C7"},
      "encoding": {"text": {"field": "label"}}
    },
    {
      "data": {"name": "last"},
      "transform": [{"filter": {"field": "s", "equal": "2-комн. кв."}}],
      "mark": {"type": "text", "fontSize": 21, "fontWeight": "bold", "align": "center", "baseline": "middle", "dy": -43, "opacity": 0.9, "color": "#FFFFB3"},
      "encoding": {"text": {"field": "label"}}
    },
    {
      "data": {"name": "last"},
      "transform": [{"filter": {"field": "s", "equal": "3-комн. кв."}}],
      "mark": {"type": "text", "fontSize": 21, "fontWeight": "bold", "align": "center", "baseline": "middle", "dy": -21, "opacity": 0.9, "color": "#BEBADA"},
      "encoding": {"text": {"field": "label"}}
    }
  ]
}
